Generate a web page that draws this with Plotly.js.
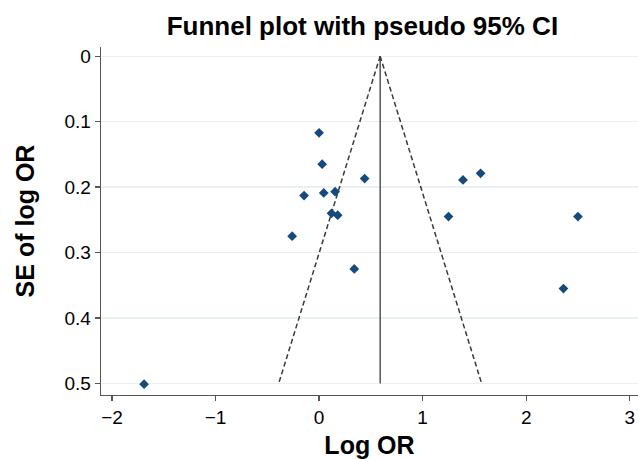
<!DOCTYPE html>
<html>
<head>
<meta charset="utf-8">
<script src="https://cdn.plot.ly/plotly-3.0.1.min.js"></script>
<style>html,body{margin:0;padding:0;background:#fff;}#chart{width:638px;height:459px;}</style>
</head>
<body>
<div id="chart"></div>
<script>
// Study estimates (log odds ratio) and standard errors
const logOR = [0.00, 0.03, 0.44, -0.145, 0.045, 0.155, 0.12, 0.18, -0.26, 0.34, 1.39, 1.56, 1.25, 2.50, 2.36, -1.69];
const seLogOR = [0.117, 0.165, 0.187, 0.213, 0.209, 0.207, 0.240, 0.243, 0.275, 0.325, 0.189, 0.179, 0.245, 0.245, 0.355, 0.501];
// Pooled estimate and pseudo 95% CI funnel
const pooled = 0.59;
const funnelSE = [0, 0.5];
const z95 = 1.96;

const leftX = funnelSE.map(s => pooled - z95 * s);
const rightX = funnelSE.map(s => pooled + z95 * s);
const font = "'Liberation Sans', Arial, sans-serif";
const lineCol = '#3a3a3a';

const traces = [
  {x: leftX, y: funnelSE, mode: 'lines', line: {color: lineCol, width: 1.5, dash: '5px,3px'}, hoverinfo: 'skip'},
  {x: rightX, y: funnelSE, mode: 'lines', line: {color: lineCol, width: 1.5, dash: '5px,3px'}, hoverinfo: 'skip'},
  {x: [pooled, pooled], y: funnelSE, mode: 'lines', line: {color: lineCol, width: 1.3}, hoverinfo: 'skip'},
  {x: logOR, y: seLogOR, mode: 'markers', marker: {symbol: 'diamond', size: 7.5, color: '#174a7c'}}
];

const layout = {
  width: 638, height: 459,
  margin: {l: 101, r: 0, t: 47, b: 64},
  showlegend: false,
  paper_bgcolor: '#fff', plot_bgcolor: '#fff',
  font: {family: font, color: '#000', size: 19},
  title: {text: '<b>Funnel plot with pseudo 95% CI</b>', font: {family: font, size: 26, color: '#000'}, x: 0.568, xref: 'container', xanchor: 'center', y: 0.943, yref: 'container', yanchor: 'middle'},
  xaxis: {
    range: [-2.106, 3.08], tickvals: [-2, -1, 0, 1, 2, 3], ticktext: ['\u22122', '\u22121', '0', '1', '2', '3'],
    showgrid: false, zeroline: false, showline: true, linecolor: '#555', linewidth: 1.3,
    ticks: 'outside', ticklen: 5, tickcolor: '#555', tickwidth: 1.3,
    tickfont: {size: 19, family: font, color: '#000'},
    title: {text: '<b>Log OR</b>', font: {size: 25, family: font, color: '#000'}, standoff: 11}
  },
  yaxis: {
    range: [0.5176, -0.014], tickvals: [0, 0.1, 0.2, 0.3, 0.4, 0.5], ticktext: ['0', '0.1', '0.2', '0.3', '0.4', '0.5'],
    showgrid: true, gridcolor: '#e9f0f3', gridwidth: 1.3, zeroline: false,
    showline: true, linecolor: '#555', linewidth: 1.3,
    ticks: 'outside', ticklen: 5, tickcolor: '#555', tickwidth: 1.3,
    tickfont: {size: 19, family: font, color: '#000'},
    title: {text: '<b>SE of log OR</b>', font: {size: 25, family: font, color: '#000'}, standoff: 22}
  }
};

Plotly.newPlot('chart', traces, layout, {displayModeBar: false, staticPlot: true});
</script>
</body>
</html>
